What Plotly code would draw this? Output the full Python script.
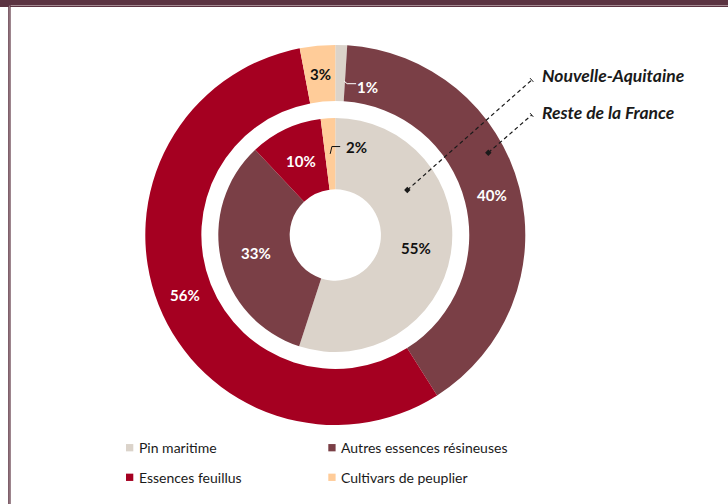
import math
import plotly.graph_objects as go

# ---------------- data ----------------
categories = ["Pin maritime", "Autres essences résineuses", "Essences feuillus", "Cultivars de peuplier"]
series_names = ["Nouvelle-Aquitaine", "Reste de la France"]
inner_values = [55, 33, 10, 2]   # Nouvelle-Aquitaine (inner ring)
outer_values = [1, 40, 56, 3]    # Reste de la France (outer ring)

# ---------------- style ----------------
W, H = 728, 504
colors = ["#DBD3CA", "#7A3F46", "#A50021", "#FFCC99"]
label_colors = ["#111111", "#FFFFFF", "#FFFFFF", "#111111"]
frame_col = "#5B3341"
FONT = "Lato"

CX, CY = 335.3, 235.0
R_OUT, HOLE_OUT = 190.0, 0.705
R_IN, HOLE_IN = 117.0, 0.39


def px(x):
    return x / W


def py(y):
    return 1 - y / H


def domain(r):
    return dict(x=[px(CX - r), px(CX + r)], y=[py(CY + r), py(CY - r)])


fig = go.Figure()
fig.add_trace(go.Pie(
    values=outer_values, labels=categories, name=series_names[1],
    hole=HOLE_OUT, sort=False, direction="clockwise", rotation=0,
    marker=dict(colors=colors, line=dict(width=0)),
    textinfo="none", hoverinfo="label+percent+name", showlegend=False,
    domain=domain(R_OUT),
))
fig.add_trace(go.Pie(
    values=inner_values, labels=categories, name=series_names[0],
    hole=HOLE_IN, sort=False, direction="clockwise", rotation=0,
    marker=dict(colors=colors, line=dict(width=0)),
    textinfo="none", hoverinfo="label+percent+name", showlegend=False,
    domain=domain(R_IN),
))

annotations = []
shapes = []

# custom label displacement (pixels) for the tiny slices: (ring, index) -> (dx, dy)
label_offsets = {("out", 0): (27, 14), ("in", 3): (26, -7)}
leader_colors = {("out", 0): "#FFFFFF", ("in", 3): "#111111"}


def ring_labels(values, r, hole, key):
    total = float(sum(values))
    cum = 0.0
    rmid = r * (1 + hole) / 2
    for i, v in enumerate(values):
        mid = (cum + v / 2) / total * 2 * math.pi
        cum += v
        x = CX + rmid * math.sin(mid)
        y = CY - rmid * math.cos(mid)
        tx, ty = x, y
        col = label_colors[i]
        if (key, i) in label_offsets:
            dx, dy = label_offsets[(key, i)]
            if key == "out":
                ax, ay = CX + (rmid - 8) * math.sin(mid) + 4, CY - (rmid - 8) * math.cos(mid)
            else:
                ax, ay = x, y
            tx, ty = x + dx, y + dy
            lc = leader_colors[(key, i)]
            if key == "out":
                path = f"M{px(ax)},{py(ay)} L{px(ax + 3)},{py(ay + 2.6)} L{px(ax + 12)},{py(ay + 2.6)}"
                col = "#FFFFFF"
            else:
                path = f"M{px(ax)},{py(ay)} L{px(ax + 1.7)},{py(ay - 7.3)} L{px(ax + 10)},{py(ay - 7.3)}"
                col = "#111111"
            shapes.append(dict(type="path", xref="paper", yref="paper", path=path,
                               line=dict(color=lc, width=1)))
        annotations.append(dict(
            x=px(tx), y=py(ty), xref="paper", yref="paper", showarrow=False,
            text=f"<b>{v}%</b>", xanchor="center", yanchor="middle",
            font=dict(family=FONT, size=15, color=col)))


ring_labels(outer_values, R_OUT, HOLE_OUT, "out")
ring_labels(inner_values, R_IN, HOLE_IN, "in")

# series callouts (dashed pointers)
callouts = [
    (series_names[0], (407.3, 190.0), (531.7, 80.0), 75.0),
    (series_names[1], (488.3, 152.7), (531.7, 115.0), 113.0),
]
for name, (x0, y0), (x1, y1), ty in callouts:
    shapes.append(dict(type="line", xref="paper", yref="paper",
                       x0=px(x0), y0=py(y0), x1=px(x1), y1=py(y1),
                       line=dict(color="#1A1A1A", width=1.2, dash="4px,3px")))
    d = 3.2
    shapes.append(dict(type="path", xref="paper", yref="paper",
                       path=f"M{px(x0 - d)},{py(y0)} L{px(x0)},{py(y0 - d)} L{px(x0 + d)},{py(y0)} L{px(x0)},{py(y0 + d)} Z",
                       fillcolor="#1A1A1A", line=dict(width=0)))
    L = math.hypot(x1 - x0, y1 - y0)
    ux, uy = (x1 - x0) / L, (y1 - y0) / L
    nx, ny = -uy, ux
    shapes.append(dict(type="line", xref="paper", yref="paper",
                       x0=px(x1 - nx * 2.5), y0=py(y1 - ny * 2.5),
                       x1=px(x1 + nx * 2.5), y1=py(y1 + ny * 2.5),
                       line=dict(color="#1A1A1A", width=1)))
    annotations.append(dict(x=px(540.0), y=py(ty), xref="paper", yref="paper",
                            showarrow=False, xanchor="left", yanchor="middle",
                            text=f"<b><i>{name}</i></b>",
                            font=dict(family=FONT, size=17.5, color="#1A1A1A")))

# legend (2 x 2)
leg_x = [126.0, 328.3]
leg_y = [447.7, 477.3]
sq = 7.3
for i, cat in enumerate(categories):
    lx = leg_x[i % 2]
    ly = leg_y[i // 2]
    shapes.append(dict(type="rect", xref="paper", yref="paper",
                       x0=px(lx), x1=px(lx + sq), y0=py(ly + sq / 2), y1=py(ly - sq / 2),
                       fillcolor=colors[i], line=dict(width=0)))
    annotations.append(dict(x=px(lx + 11.0), y=py(ly), xref="paper", yref="paper",
                            showarrow=False, xanchor="left", yanchor="middle", text=cat,
                            font=dict(family=FONT, size=14, color="#1A1A1A")))

# frame
shapes += [
    dict(type="rect", xref="paper", yref="paper", x0=0, x1=1, y0=py(7), y1=1,
         fillcolor=frame_col, line=dict(width=0), layer="above"),
    dict(type="line", xref="paper", yref="paper", x0=px(9.5), x1=1, y0=py(5.5), y1=py(5.5),
         line=dict(color="#A58A92", width=1), layer="above"),
    dict(type="rect", xref="paper", yref="paper", x0=px(8.2), x1=px(10.6), y0=0, y1=py(5),
         fillcolor=frame_col, line=dict(width=0), layer="above"),
    dict(type="line", xref="paper", yref="paper", x0=px(9.4), x1=px(9.4), y0=0, y1=py(5.5),
         line=dict(color="#A58A92", width=0.8), layer="above"),
]

fig.update_layout(
    width=W, height=H, margin=dict(l=0, r=0, t=0, b=0),
    paper_bgcolor="white", plot_bgcolor="white",
    showlegend=False, annotations=annotations, shapes=shapes,
    font=dict(family=FONT),
)

fig.write_html("out.html", config={"displayModeBar": False},
               post_script="document.body.style.margin='0px';document.body.style.overflow='hidden';")
